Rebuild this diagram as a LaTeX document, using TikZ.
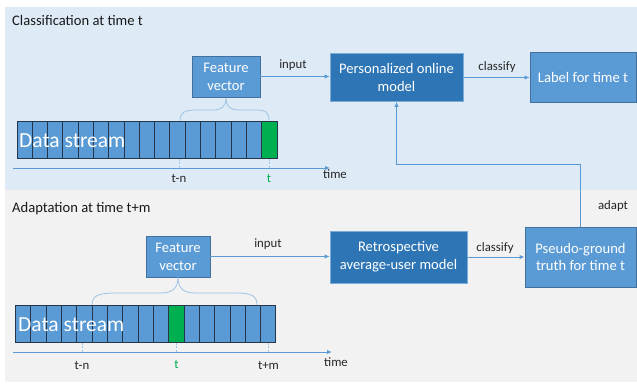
\documentclass[tikz,border=0pt]{standalone}
\usepackage{fontspec}
\setmainfont{Carlito}
\usetikzlibrary{arrows.meta}
\definecolor{bgtop}{HTML}{DEEBF7}
\definecolor{bgbot}{HTML}{F2F2F2}
\definecolor{boxmid}{HTML}{5B9BD5}
\definecolor{boxdark}{HTML}{2E75B6}
\definecolor{boxedge}{HTML}{41719C}
\definecolor{lineblue}{HTML}{5B9BD5}
\definecolor{bracec}{HTML}{9DC3E6}
\definecolor{greenc}{HTML}{00B050}
\definecolor{txt}{HTML}{262626}
\definecolor{celledge}{HTML}{25364A}
\tikzset{
  midbox/.style={draw=boxedge, fill=boxmid, line width=0.9pt, text=white,
    font=\fontsize{14.6}{17.8}\selectfont, align=center, inner sep=0pt},
  darkbox/.style={draw=bracec!70!boxdark, fill=boxdark, line width=0.6pt, text=white,
    font=\fontsize{14.6}{17.8}\selectfont, align=center, inner sep=0pt},
  lbl/.style={text=txt, font=\fontsize{12.8}{15}\selectfont, inner sep=0pt, anchor=base},
  ttl/.style={text=black!90, font=\fontsize{14.6}{17}\selectfont, inner sep=0pt, anchor=base west},
  conn/.style={draw=lineblue, line width=1pt, -{Latex[length=5pt,width=4.5pt]}},
  cellbox/.style={draw=celledge, fill=boxmid, line width=0.9pt},
  greencell/.style={draw=celledge, fill=greenc, line width=0.9pt},
  tickln/.style={draw=bracec, line width=0.8pt, dash pattern=on 2pt off 1.5pt},
  bracepath/.style={draw=bracec, line width=0.8pt},
  dstext/.style={text=white, font=\fontsize{21.5}{24}\selectfont, inner sep=0pt, anchor=base west},
}
\begin{document}
\begin{tikzpicture}[x=1pt,y=-1pt]
\useasboundingbox (0,0) rectangle (637,383);
% backgrounds
\fill[bgtop] (5,7) rectangle (637,190);
\fill[bgbot] (5,190) rectangle (637,382);

% titles
\node[ttl] (t1) at (12,25) {Classification at time t};
\node[ttl] (t2) at (12,212.7) {Adaptation at time t+m};

% ---------- top section ----------
\node[midbox, minimum width=68, minimum height=41] (fv1) at (226,76.5) {Feature\\vector};
\node[darkbox, minimum width=133, minimum height=48] (pom) at (396.5,77.5) {Personalized online\\model};
\node[midbox, minimum width=106, minimum height=50] (lab) at (583,77.5) {Label for time t};

\foreach \i in {0,...,15} {
  \draw[cellbox] ({17+\i*15.294},121) rectangle ({17+(\i+1)*15.294},158);
}
\draw[greencell] ({17+16*15.294},121) rectangle (277,158);
\node[dstext] (ds1) at (19,147.5) {Data stream};

\coordinate (tl1s) at (13,168);
\coordinate (tl1e) at (330,168);
\draw[conn] (tl1s) -- (tl1e);
\node[lbl] (time1) at (335,178.3) {time};

\coordinate (tn1a) at (179,158.5);
\coordinate (tn1b) at (179,168);
\coordinate (tt1a) at (269,158.5);
\coordinate (tt1b) at (269,168);
\draw[tickln] (tn1a) -- (tn1b);
\draw[tickln] (tt1a) -- (tt1b);
\node[lbl] (ltn1) at (179,182.5) {t-n};
\node[lbl, text=greenc] (lt1) at (269,182.5) {t};

% brace top
\draw[bracepath] (180,121) .. controls (180,112) and (185,110) .. (197,110)
  -- (213,110) .. controls (222,110) and (226,106) .. (226,98)
  .. controls (226,106) and (230,110) .. (239,110)
  -- (255,110) .. controls (266,110) and (269,112) .. (269,121);

\draw[conn] (fv1.east) -- (fv1.east -| pom.west);
\node[lbl] (in1) at (293,68.3) {input};
\draw[conn] (pom.east) -- (lab.west);
\node[lbl] (cl1) at (497,70) {classify};

% ---------- bottom section ----------
\node[midbox, minimum width=64, minimum height=41] (fv2) at (178,256.5) {Feature\\vector};
\node[darkbox, minimum width=137, minimum height=52] (ret) at (398.5,257) {Retrospective\\average-user model};
\node[midbox, minimum width=111, minimum height=60] (pgt) at (580.5,257) {Pseudo-ground\\truth for time t};

\foreach \i in {0,...,9,11,12,13,14,15,16} {
  \draw[cellbox] ({15.5+\i*15.32},305) rectangle ({15.5+(\i+1)*15.32},342);
}
\draw[greencell] ({15.5+10*15.32},305) rectangle ({15.5+11*15.32},342);
\node[dstext] (ds2) at (18,331.5) {Data stream};

\coordinate (tl2s) at (13,352);
\coordinate (tl2e) at (332,352);
\draw[conn] (tl2s) -- (tl2e);
\node[lbl] (time2) at (336,366.7) {time};

\coordinate (tn2a) at (82,342.5);
\coordinate (tn2b) at (82,352);
\coordinate (tt2a) at (176.5,342.5);
\coordinate (tt2b) at (176.5,352);
\coordinate (tm2a) at (268.5,342.5);
\coordinate (tm2b) at (268.5,352);
\draw[tickln] (tn2a) -- (tn2b);
\draw[tickln] (tt2a) -- (tt2b);
\draw[tickln] (tm2a) -- (tm2b);
\node[lbl] (ltn2) at (82,369.5) {t-n};
\node[lbl, text=greenc] (lt2) at (176.5,368.5) {t};
\node[lbl] (ltm2) at (268.5,369.5) {t+m};

% brace bottom
\draw[bracepath] (92,305) .. controls (92,296) and (98,293) .. (115,293)
  -- (160,293) .. controls (172,293) and (178,289) .. (178,277)
  .. controls (178,289) and (184,293) .. (196,293)
  -- (235,293) .. controls (252,293) and (257,296) .. (257,305);

\draw[conn] (fv2.east) -- (fv2.east -| ret.west);
\node[lbl] (in2) at (268,247.3) {input};
\draw[conn] (ret.east) -- (pgt.west);
\node[lbl] (cl2) at (495,251.7) {classify};

% adapt
\coordinate (bend) at (580.5,164);
\draw[conn] (pgt.north) -- (bend) -| (pom.south);
\node[lbl] (ad) at (613,209.3) {adapt};
\end{tikzpicture}
\end{document}
